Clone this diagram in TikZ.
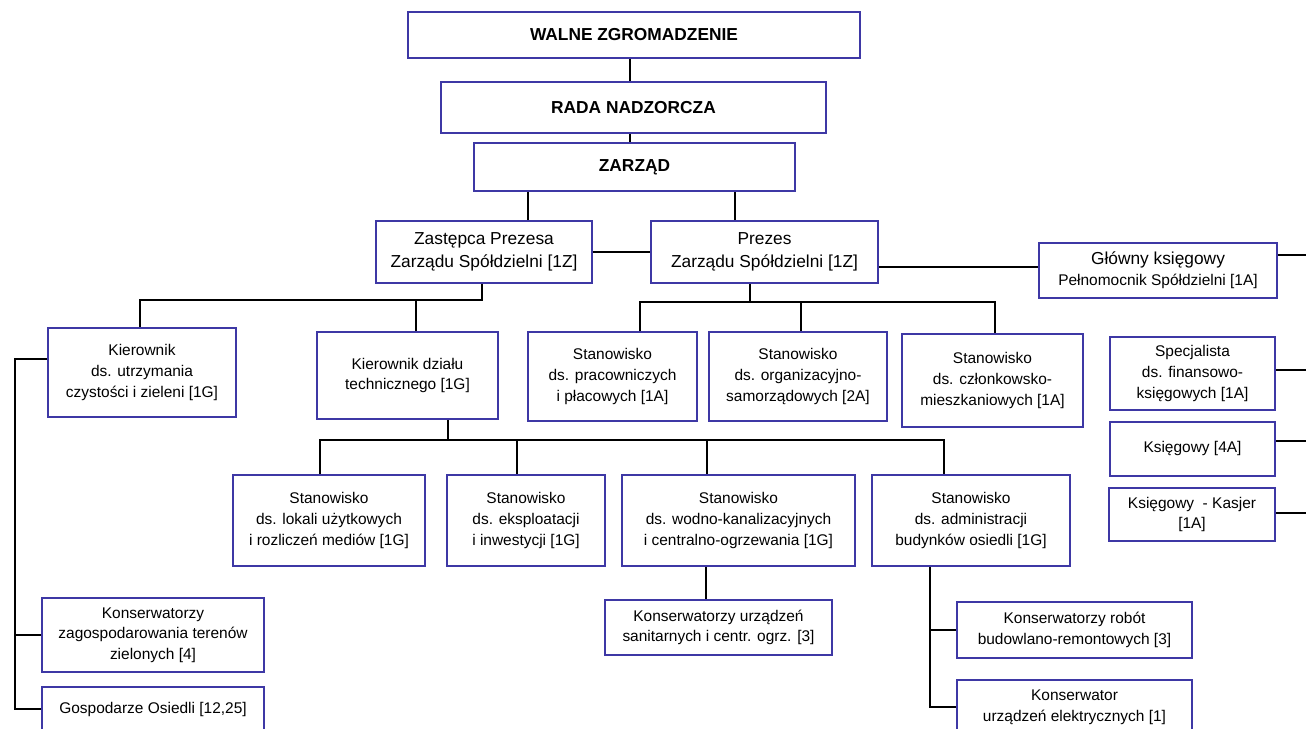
\documentclass[tikz,border=0pt]{standalone}
\usepackage{fontspec}
\setmainfont{Liberation Sans}
\usetikzlibrary{positioning}

\definecolor{boxframe}{RGB}{62,56,165}

\tikzset{
  box/.style={draw=boxframe, line width=1.3pt, fill=white, align=center,
    inner sep=0pt, font=\fontsize{11.6}{15.5}\selectfont},
  bigbox/.style={box, font=\fontsize{13}{17}\selectfont},
  topbox/.style={box, font=\fontsize{13}{16}\selectfont\bfseries},
  boxsize/.style 2 args={minimum width=#1*0.75pt, minimum height=#2*0.75pt},
  link/.style={line width=1.4pt}
}

\begin{document}
\begin{tikzpicture}[x=0.75pt, y=-0.75pt]
   \useasboundingbox (0,0) rectangle (1306,728);

   % kierownictwo
   \node[topbox, boxsize={452}{46}] (wz) at (634,35) {WALNE ZGROMADZENIE};
   \node[topbox, boxsize={385}{51}] (rn) at (633.5,107.5) {RADA NADZORCZA};
   \node[topbox, boxsize={321}{48}] (zarz) at (634.5,167) {ZARZĄD};
   \node[bigbox, boxsize={216}{62}] (zast) at (484,252) {Zastępca Prezesa\\Zarządu Spółdzielni [1Z]};
   \node[bigbox, boxsize={227}{62}] (prez) at (764.5,252) {Prezes\\Zarządu Spółdzielni [1Z]};
   \node[box, boxsize={238}{55}] (glow) at (1158,270.5) {{\fontsize{13}{17}\selectfont Główny księgowy}\\Pełnomocnik Spółdzielni [1A]};

   % drugi poziom
   \node[box, boxsize={188}{89}] (kutrz) at (142,372.5) {Kierownik\\ds. utrzymania\\czystości i zieleni [1G]};
   \node[box, boxsize={181}{87}] (kdz) at (407.5,375.5) {Kierownik działu\\technicznego [1G]};
   \node[box, boxsize={169}{89}] (sprac) at (612.5,376.5) {Stanowisko\\ds. pracowniczych\\i płacowych [1A]};
   \node[box, boxsize={178}{89}] (sorg) at (798,376.5) {Stanowisko\\ds. organizacyjno-\\samorządowych [2A]};
   \node[box, boxsize={181}{93}] (sczl) at (992.5,380.5) {Stanowisko\\ds. członkowsko-\\mieszkaniowych [1A]};

   % ksiegowosc
   \node[box, boxsize={165}{73}] (sfin) at (1192.5,373.5) {Specjalista\\ds. finansowo-\\księgowych [1A]};
   \node[box, boxsize={165}{54}] (ksieg) at (1192.5,449) {Księgowy [4A]};
   \node[box, boxsize={166}{53}] (kasj) at (1192,514.5) {Księgowy~ - Kasjer\\{[1A]}};

   % dzial techniczny
   \node[box, boxsize={192}{91}] (slok) at (329,520.5) {Stanowisko\\ds. lokali użytkowych\\i rozliczeń mediów [1G]};
   \node[box, boxsize={158}{91}] (seksp) at (526,520.5) {Stanowisko\\ds. eksploatacji\\i inwestycji [1G]};
   \node[box, boxsize={233}{91}] (swod) at (738.5,520.5) {Stanowisko\\ds. wodno-kanalizacyjnych\\i centralno-ogrzewania [1G]};
   \node[box, boxsize={198}{91}] (sadm) at (971,520.5) {Stanowisko\\ds. administracji\\budynków osiedli [1G]};

   % konserwatorzy
   \node[box, boxsize={222}{74}] (kzag) at (153,635) {Konserwatorzy\\zagospodarowania terenów\\zielonych [4]};
   \node[box, boxsize={222}{44}] (gosp) at (153,709) {Gospodarze Osiedli [12,25]};
   \node[box, boxsize={227}{55}] (kurz) at (718.5,627.5) {Konserwatorzy urządzeń\\sanitarnych i centr. ogrz. [3]};
   \node[box, boxsize={235}{56}] (krob) at (1074.5,630) {Konserwatorzy robót\\budowlano-remontowych [3]};
   \node[box, boxsize={235}{54}] (kel) at (1074.5,707) {Konserwator\\urządzeń elektrycznych [1]};

   % szyny
   \coordinate (zl) at (528,0);
   \coordinate (zr) at (735,0);
   \coordinate (gl) at (0,267);
   \coordinate (redge) at (1306,255);
   \coordinate (busz) at (0,300);
   \coordinate (busp) at (0,302);
   \coordinate (bust) at (0,440);
   \coordinate (lrail) at (15,359);
   \coordinate (rrail) at (930,0);

   \draw[link] (wz.south -| 630,0) -- (rn.north -| 630,0);
   \draw[link] (rn.south -| 630,0) -- (zarz.north -| 630,0);
   \draw[link] (zarz.south -| zl) -- (zast.north -| zl);
   \draw[link] (zarz.south -| zr) -- (prez.north -| zr);
   \draw[link] (zast.east) -- (prez.west);
   \draw[link] (prez.east |- gl) -- (glow.west |- gl);
   \draw[link] (glow.east |- redge) -- (redge);
   \draw[link] (sfin.east) ++(0,-3.5) -- ++(31,0);
   \draw[link] (ksieg.east) ++(0,-8) -- ++(31,0);
   \draw[link] (kasj.east) ++(0,-1.5) -- ++(32,0);

   \draw[link] (zast.south -| 482,0) -- (busz -| 482,0) -- (busz -| 140,0) -- (kutrz.north -| 140,0);
   \draw[link] (busz -| 416,0) -- (kdz.north -| 416,0);

   \draw[link] (prez.south -| 750,0) -- (busp -| 750,0);
   \draw[link] (sprac.north -| 640,0) -- (busp -| 640,0) -- (busp -| 995,0) -- (sczl.north -| 995,0);
   \draw[link] (busp -| 801,0) -- (sorg.north -| 801,0);

   \draw[link] (kdz.south -| 448,0) -- (bust -| 448,0);
   \draw[link] (slok.north -| 320,0) -- (bust -| 320,0) -- (bust -| 944,0) -- (sadm.north -| 944,0);
   \draw[link] (bust -| 517,0) -- (seksp.north -| 517,0);
   \draw[link] (bust -| 707,0) -- (swod.north -| 707,0);

   \draw[link] (swod.south -| 706,0) -- (kurz.north -| 706,0);
   \draw[link] (sadm.south -| rrail) |- (kel.west);
   \draw[link] (rrail |- krob.west) -- (krob.west);
   \draw[link] (kutrz.west |- lrail) -- (lrail) |- (gosp.west);
   \draw[link] (lrail |- kzag.west) -- (kzag.west);
\end{tikzpicture}
\end{document}
